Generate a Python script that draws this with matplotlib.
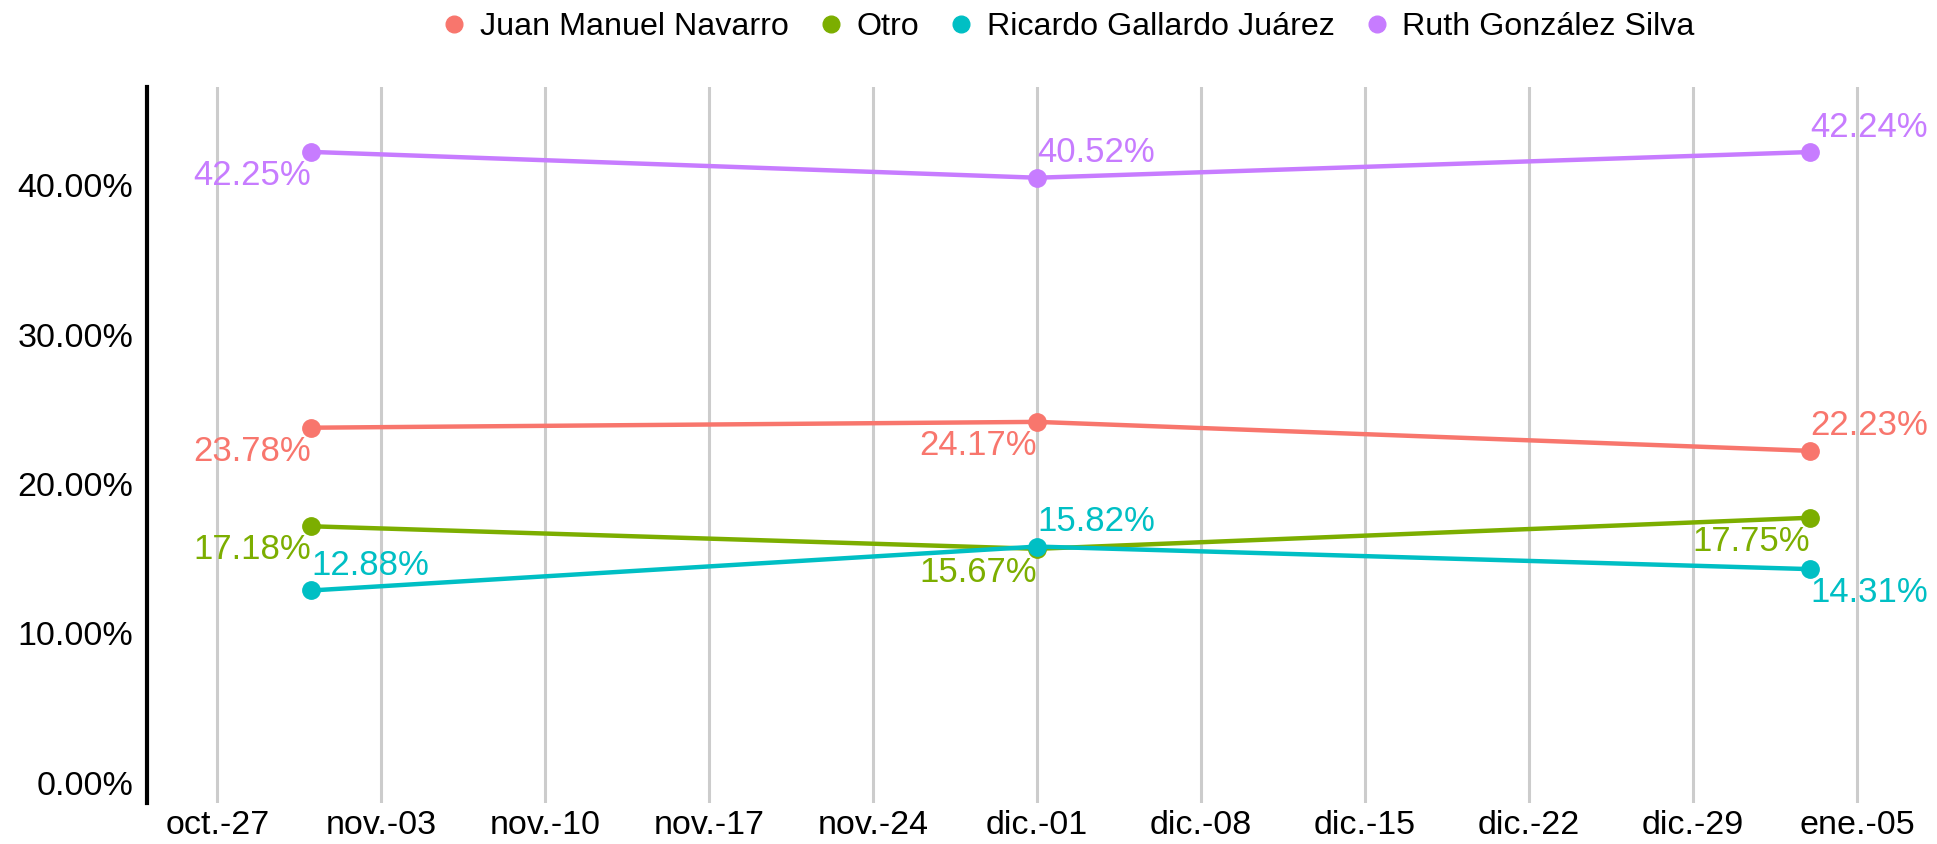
#!/usr/bin/env python3
"""Poll trend lines, four series, three survey dates."""

from datetime import date

import matplotlib
matplotlib.use("Agg")
import matplotlib.dates as mdates
import matplotlib.pyplot as plt

plt.rcParams["font.family"] = ["Liberation Sans", "DejaVu Sans"]

# survey dates and values (%)
DATES = [date(2023, 10, 31), date(2023, 12, 1), date(2024, 1, 3)]
CANDIDATES = ["Juan Manuel Navarro", "Otro", "Ricardo Gallardo Juárez", "Ruth González Silva"]
NAVARRO = [23.78, 24.17, 22.23]
OTRO = [17.18, 15.67, 17.75]
GALLARDO = [12.88, 15.82, 14.31]
GONZALEZ = [42.25, 40.52, 42.24]
SERIES = [NAVARRO, OTRO, GALLARDO, GONZALEZ]

X_TICKS = [date(2023, 10, 27), date(2023, 11, 3), date(2023, 11, 10), date(2023, 11, 17),
           date(2023, 11, 24), date(2023, 12, 1), date(2023, 12, 8), date(2023, 12, 15),
           date(2023, 12, 22), date(2023, 12, 29), date(2024, 1, 5)]
X_LABELS = ["oct.-27", "nov.-03", "nov.-10", "nov.-17", "nov.-24", "dic.-01",
            "dic.-08", "dic.-15", "dic.-22", "dic.-29", "ene.-05"]
Y_TICKS = [0, 10, 20, 30, 40]

COLORS = ["#F8766D", "#7CAE00", "#00BFC4", "#C77CFF"]

# where each value label sits relative to its point: r/l = text ends/starts at the point,
# a/b = above/below
LABEL_SIDE = [
    ["rb", "rb", "la"],
    ["rb", "rb", "rb"],
    ["la", "la", "lb"],
    ["rb", "la", "la"],
]


def main() -> int:
    fig = plt.figure(figsize=(19.37, 8.44), dpi=100)
    ax = fig.add_axes([0.0759, 0.0486, 0.907, 0.8484])

    for name, values, color, sides in zip(CANDIDATES, SERIES, COLORS, LABEL_SIDE):
        ax.plot(DATES, values, color=color, lw=3.2, marker="o", ms=12.5,
                solid_capstyle="round", label=name, zorder=3)
        for d, v, side in zip(DATES, values, sides):
            ha = "right" if side[0] == "r" else "left"
            dy = 18 if side[1] == "a" else -17
            ax.annotate(f"{v:.2f}%", (mdates.date2num(d), v), xytext=(0, dy),
                        textcoords="offset points", ha=ha, va="center",
                        color=color, fontsize=25, zorder=4)

    ax.set_xlim(mdates.date2num(date(2023, 10, 24)), mdates.date2num(date(2024, 1, 7)))
    ax.set_ylim(-1.35, 46.6)
    ax.set_xticks([mdates.date2num(d) for d in X_TICKS])
    ax.set_xticklabels(X_LABELS)
    ax.set_yticks(Y_TICKS)
    ax.set_yticklabels([f"{t:.2f}%" for t in Y_TICKS])
    ax.tick_params(axis="both", length=0, labelsize=24.5)
    ax.tick_params(axis="x", pad=5)
    ax.tick_params(axis="y", pad=10)

    ax.grid(axis="x", color="#cccccc", lw=2.2, zorder=0)
    ax.set_axisbelow(True)
    for side in ["top", "right", "bottom"]:
        ax.spines[side].set_visible(False)
    ax.spines["left"].set_linewidth(3)
    ax.spines["left"].set_color("black")

    handles = [plt.Line2D([], [], ls="none", marker="o", ms=12, color=c) for c in COLORS]
    fig.legend(handles, CANDIDATES, loc="center", bbox_to_anchor=(0.5505, 0.968), ncol=4,
               frameon=False, fontsize=23.2, handletextpad=0.3, columnspacing=0.8,
               handlelength=1.0)

    fig.savefig("out.png", dpi=100)
    return 0


if __name__ == "__main__":
    raise SystemExit(main())
